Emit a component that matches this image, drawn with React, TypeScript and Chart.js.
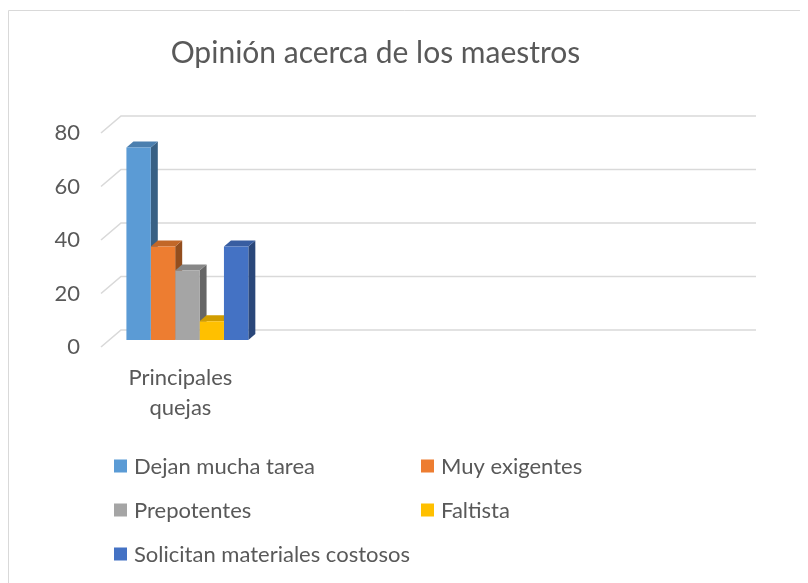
import React, { useEffect, useRef } from "react";
import { Chart, registerables } from "chart.js";

Chart.register(...registerables);

// ---- data ----
const chartTitle = "Opinión acerca de los maestros";
const categories = ["Principales quejas"];
const emptySlots = ["", "", ""];
const seriesNames = [
  "Dejan mucha tarea",
  "Muy exigentes",
  "Prepotentes",
  "Faltista",
  "Solicitan materiales costosos",
];
const dejanMuchaTarea = [72];
const muyExigentes = [35];
const prepotentes = [26];
const faltista = [7];
const solicitanMateriales = [35];
const seriesValues = [dejanMuchaTarea, muyExigentes, prepotentes, faltista, solicitanMateriales];
const seriesColors = ["#5B9BD5", "#ED7D31", "#A5A5A5", "#FFC000", "#4472C4"];
const yMin = 0;
const yMax = 80;
const yStep = 20;

// ---- style constants ----
const TEXT = "#595959";
const GRID = "#D9D9D9";
const FONT = "Lato, 'Open Sans', sans-serif";
const DX = 7; // bar depth
const DY = 6;
const BACK_X = 13; // back wall offset
const BACK_Y = 10;
const FRONT_X = 7; // front edge offset
const FRONT_Y = 7;

function shade(hex: string, f: number): string {
  const n = parseInt(hex.slice(1), 16);
  const r = Math.round(((n >> 16) & 255) * f);
  const g = Math.round(((n >> 8) & 255) * f);
  const b = Math.round((n & 255) * f);
  return `rgb(${r},${g},${b})`;
}

const borderPlugin = {
  id: "frameBorder",
  beforeDraw(chart: any) {
    const { ctx, width, height } = chart;
    ctx.save();
    ctx.strokeStyle = GRID;
    ctx.lineWidth = 1;
    ctx.beginPath();
    ctx.moveTo(0.5, height);
    ctx.lineTo(0.5, 2.5);
    ctx.lineTo(width, 2.5);
    ctx.stroke();
    ctx.restore();
  },
};

const depthPlugin = {
  id: "depth3d",
  beforeDatasetsDraw(chart: any) {
    const { ctx, chartArea } = chart;
    const yScale = chart.scales.y;
    ctx.save();
    ctx.strokeStyle = GRID;
    ctx.lineWidth = 1.6;
    yScale.ticks.forEach((t: any) => {
      const py = yScale.getPixelForValue(t.value);
      ctx.beginPath();
      ctx.moveTo(chartArea.left - FRONT_X, py + FRONT_Y);
      ctx.lineTo(chartArea.left + BACK_X, py - BACK_Y);
      ctx.lineTo(chartArea.right + BACK_X, py - BACK_Y);
      ctx.stroke();
    });
    const items: { bar: any; color: string }[] = [];
    chart.data.datasets.forEach((ds: any, di: number) => {
      const meta = chart.getDatasetMeta(di);
      meta.data.forEach((bar: any) => items.push({ bar, color: ds.backgroundColor }));
    });
    items.sort((a, b) => a.bar.x - b.bar.x);
    items.forEach(({ bar, color }) => {
      const p = bar.getProps(["x", "y", "base", "width"], true);
      if (p.y == null || isNaN(p.y)) return;
      const left = p.x - p.width / 2;
      const right = p.x + p.width / 2;
      const top = p.y;
      const base = p.base;
      ctx.fillStyle = shade(color, 0.62);
      ctx.beginPath();
      ctx.moveTo(right, top);
      ctx.lineTo(right + DX, top - DY);
      ctx.lineTo(right + DX, base - DY);
      ctx.lineTo(right, base);
      ctx.closePath();
      ctx.fill();
      ctx.fillStyle = shade(color, 0.82);
      ctx.beginPath();
      ctx.moveTo(left, top);
      ctx.lineTo(left + DX, top - DY);
      ctx.lineTo(right + DX, top - DY);
      ctx.lineTo(right, top);
      ctx.closePath();
      ctx.fill();
    });
    ctx.restore();
  },
};

const LEGEND_COLS = [106, 413];
const LEGEND_Y0 = 458;
const LEGEND_ROW = 44;

const legendPlugin = {
  id: "gridLegend",
  afterDraw(chart: any) {
    const { ctx } = chart;
    ctx.save();
    ctx.font = `22px ${FONT}`;
    ctx.textBaseline = "middle";
    ctx.textAlign = "left";
    chart.data.datasets.forEach((ds: any, i: number) => {
      const bx = LEGEND_COLS[i % 2];
      const cy = LEGEND_Y0 + Math.floor(i / 2) * LEGEND_ROW;
      ctx.fillStyle = ds.backgroundColor;
      ctx.fillRect(bx, cy - 6.5, 13, 13);
      ctx.fillStyle = TEXT;
      ctx.fillText(ds.label, bx + 20, cy + 1);
    });
    ctx.restore();
  },
};

export default function App() {
  const ref = useRef<HTMLCanvasElement>(null);
  useEffect(() => {
    if (!ref.current) return;
    const chart = new Chart(ref.current, {
      type: "bar",
      data: {
        labels: [...categories, ...emptySlots],
        datasets: seriesNames.map((name, i) => ({
          label: name,
          data: seriesValues[i],
          backgroundColor: seriesColors[i],
          borderWidth: 0,
          categoryPercentage: 0.768,
          barPercentage: 1,
        })),
      },
      options: {
        animation: false,
        responsive: true,
        maintainAspectRatio: false,
        layout: { padding: { left: 0, right: 57, top: 0, bottom: 163 } },
        plugins: {
          legend: { display: false },
          tooltip: { enabled: false },
          title: {
            display: true,
            text: chartTitle,
            color: TEXT,
            font: { family: FONT, size: 30, weight: "normal" },
            padding: { top: 27, bottom: 55 },
          },
        },
        scales: {
          x: {
            grid: { display: false, drawTicks: false },
            border: { display: false },
            ticks: {
              color: TEXT,
              font: { family: FONT, size: 22, lineHeight: 1.36 },
              padding: 23,
              labelOffset: -7,
              maxRotation: 0,
              autoSkip: false,
              callback: function (this: any, value: any) {
                const lab = this.getLabelForValue(value);
                return lab ? lab.split(" ") : "";
              },
            },
            afterFit(scale: any) {
              scale.height = 80;
            },
          },
          y: {
            min: yMin,
            max: yMax,
            grid: { display: false, drawTicks: false },
            border: { display: false },
            ticks: {
              stepSize: yStep,
              color: TEXT,
              font: { family: FONT, size: 22 },
              padding: 28,
              labelOffset: 7,
            },
            afterFit(scale: any) {
              scale.width = 100;
            },
          },
        },
      },
      plugins: [borderPlugin, depthPlugin, legendPlugin],
    });
    return () => chart.destroy();
  }, []);
  return (
    <div style={{ width: 792, height: 575, position: "relative" }}>
      <canvas ref={ref} />
    </div>
  );
}
